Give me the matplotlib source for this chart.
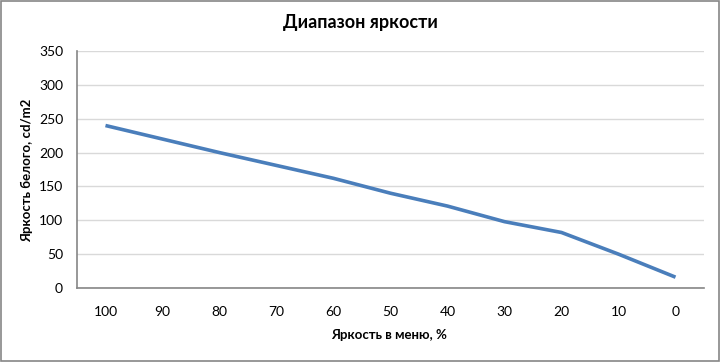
import matplotlib
matplotlib.use("Agg")
import matplotlib.pyplot as plt
from matplotlib.patches import Rectangle

menu_levels = ["100", "90", "80", "70", "60", "50", "40", "30", "20", "10", "0"]
white_luminance = [240, 220, 200, 181, 162, 140, 121, 98, 82, 50, 16]
y_ticks = [0, 50, 100, 150, 200, 250, 300, 350]

title = "Диапазон яркости"
x_label = "Яркость в меню, %"
y_label = "Яркость белого, cd/m2"

plt.rcParams['font.family'] = ['Lato', 'DejaVu Sans']

fig = plt.figure(figsize=(7.2, 3.62), dpi=100)
fig.patch.set_facecolor("white")
fig.patches.append(Rectangle((0.002, 0.003), 0.996, 0.994, transform=fig.transFigure,
                             fill=False, edgecolor="#868686", linewidth=1.2))

ax = fig.add_axes([0.1069, 0.2044, 0.8709, 0.6546])
x = list(range(len(menu_levels)))
ax.plot(x, white_luminance, color="#4a7ebb", linewidth=2.6, solid_capstyle="butt")

ax.set_xlim(-0.5, len(menu_levels) - 0.5)
ax.set_ylim(0, 350)
ax.set_yticks(y_ticks)
ax.set_xticks(x)
ax.set_xticklabels(menu_levels)
ax.tick_params(axis="both", length=0, labelsize=10, colors="black")
ax.tick_params(axis="x", pad=13)
ax.tick_params(axis="y", pad=10)
ax.grid(axis="y", color="#d9d9d9", linewidth=1)
ax.set_axisbelow(True)
for s in ["top", "right"]:
    ax.spines[s].set_visible(False)
for s in ["left", "bottom"]:
    ax.spines[s].set_color("#868686")
    ax.spines[s].set_linewidth(1.2)

fig.text(0.5, 0.938, title, ha="center", va="center", fontsize=13, fontweight="bold")
fig.text(0.54, 0.075, x_label, ha="center", va="center", fontsize=9.5, fontweight="bold")
fig.text(0.038, 0.53, y_label, ha="center", va="center", fontsize=9.5, fontweight="bold", rotation=90)

fig.savefig("out.png", dpi=100)
